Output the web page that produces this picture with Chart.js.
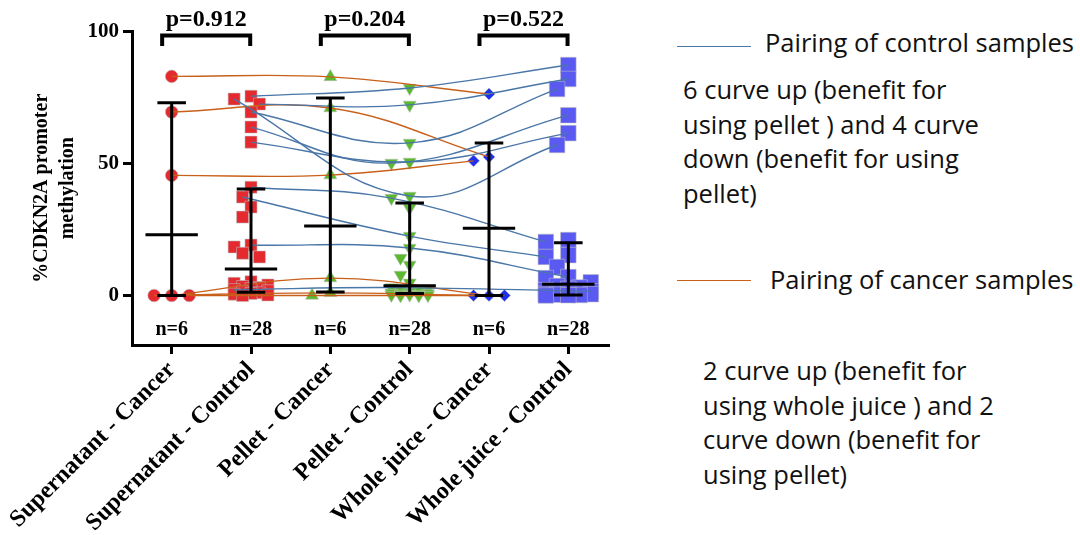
<!DOCTYPE html>
<html>
<head>
<meta charset="utf-8">
<script src="https://cdn.jsdelivr.net/npm/chart.js@4.4.1/dist/chart.umd.min.js"></script>
<style>
  html, body { margin: 0; padding: 0; background: #fff; }
  #wrap { position: relative; width: 1080px; height: 535px; overflow: hidden; }
  #chartBox { position: absolute; left: 0; top: 0; width: 640px; height: 535px; }
  .note { position: absolute; font-family: "Open Sans", sans-serif; font-size: 25.5px; color: #111; line-height: 34.5px; white-space: nowrap; }
  .key { position: absolute; width: 74px; height: 0; border-top: 1.6px solid; }
</style>
</head>
<body>
<div id="wrap">
  <div id="chartBox"><canvas id="plot"></canvas></div>
  <div class="key" style="left:677px; top:46px; border-color:#4a76a8"></div>
  <div class="note" style="left:765px; top:25px">Pairing of control samples</div>
  <div class="note" style="left:683px; top:72px">6 curve up (benefit for<br>using pellet ) and 4 curve<br>down (benefit for using<br>pellet)</div>
  <div class="key" style="left:677px; top:280px; border-color:#c8601a"></div>
  <div class="note" style="left:770px; top:262px">Pairing of cancer samples</div>
  <div class="note" style="left:703px; top:353px">2 curve up (benefit for<br>using whole juice ) and 2<br>curve down (benefit for<br>using pellet)</div>
</div>
<script>
// groups on the x axis
const groups = ['Supernatant - Cancer', 'Supernatant - Control', 'Pellet - Cancer', 'Pellet - Control', 'Whole juice - Cancer', 'Whole juice - Control'];

// % methylation per sample
const supCancer = [83, 69.5, 45.5, 0, 0, 0];
const supControl = [75.5, 74.4, 72.5, 69.5, 63.8, 58.1, 41, 37.3, 33.5, 29.7, 19.1, 18.4, 16, 14.6,
  5.2, 4.6, 4, 3.4, 3, 2.6, 2.2, 1.8, 1.4, 1, 0.8, 0.5, 0.2, 0];
const pelCancer = [82.8, 71, 45.6, 6.6, 1, 0];
const pelControl = [78.6, 72.2, 57.8, 50.6, 50.2, 37.7, 36.9, 33.1, 22.5, 18, 14.2, 11.6, 7.8,
  4.8, 3, 2.5, 2, 1.6, 1.3, 1, 0.8, 0.6, 0.4, 0.3, 0.2, 0.1, 0, 0];
const wjCancer = [76.3, 52.5, 51, 0, 0, 0];
const wjControl = [87.3, 82, 78.2, 68.3, 61.5, 57, 21, 20.3, 15.3, 14.6, 10.8, 7, 6.6, 5,
  3.6, 3, 2.5, 2, 1.6, 1.3, 1, 0.8, 0.6, 0.5, 0.3, 0.2, 0.1, 0];

// median and interquartile range per group
const medians = [23, 10, 26.3, 3.7, 25.5, 4.3];
const q1 = [0, 1.2, 1.3, 0.8, 0, 0.2];
const q3 = [73, 40.3, 74.8, 35, 57.8, 20];

const pValues = ['p=0.912', 'p=0.204', 'p=0.522'];
const yTicks = [0, 50, 100];

// paired samples: [supernatant, pellet, whole juice]
const controlPairs = [
  [75.5, 78.6, 87.3], [72.5, 72.2, 82], [74.4, 37.7, 57], [69.5, 57.8, 78.2], [63.8, 50.2, 68.3],
  [58.1, 50.6, 61.5], [41, 36.9, 20.3], [37.3, 22.5, 14.6], [19.1, 18, 7], [2.2, 3, 1.6]
];
const cancerPairs = [[83, 82.8, 76.3], [69.5, 71, 52.5], [45.5, 45.6, 51], [0, 6.6, 0], [0, 1, 0], [0, 0, 0]];

const groupValues = [supCancer, supControl, pelCancer, pelControl, wjCancer, wjControl];

const markers = [
  { style: 'circle', radius: 6.3, size: 12.5, spread: 20, color: '#e42a2f', rot: 0 },
  { style: 'rect', radius: 8.5, size: 12, spread: 20, color: '#e42a2f', rot: 0 },
  { style: 'triangle', radius: 7.5, size: 13, spread: 20, color: '#5bb92e', rot: 0 },
  { style: 'triangle', radius: 7.5, size: 13, spread: 20, color: '#5bb92e', rot: 180 },
  { style: 'rectRot', radius: 6, size: 11, spread: 20, color: '#1c30ee', rot: 0 },
  { style: 'rect', radius: 11, size: 16, spread: 23, color: '#5a5af2', rot: 0 }
];

// rough pixel scale, only used to spread overlapping points sideways
const PX_Y = 2.64, PX_X = 79;

function swarm(vals, size, spread) {
  const placed = [], offs = [];
  const order = vals.map((v, i) => i).sort((a, b) => vals[b] - vals[a]);
  const minD = size * 0.85, step = size * 0.7;
  const cands = [0];
  for (let k = 1; k * step <= spread; k++) cands.push(-k * step, k * step);
  for (const i of order) {
    const py = vals[i] * PX_Y;
    let pick = null, bestD = -1;
    for (const dx of cands) {
      const d = placed.reduce((m, p) => Math.min(m, Math.hypot(p.x - dx, p.y - py)), Infinity);
      if (d >= minD) { pick = dx; break; }
      if (d > bestD) { bestD = d; pick = dx; }
    }
    placed.push({ x: pick, y: py });
    offs[i] = pick;
  }
  return offs;
}

const pointsByGroup = groupValues.map((vals, g) => {
  const offs = swarm(vals, markers[g].size, markers[g].spread);
  return vals.map((v, i) => ({ x: g + offs[i] / PX_X, y: v, used: false }));
});

function findPoint(g, v) {
  let best = null;
  for (const p of pointsByGroup[g]) {
    if (p.used) continue;
    if (!best || Math.abs(p.y - v) < Math.abs(best.y - v)) best = p;
  }
  best.used = true;
  return { x: best.x, y: best.y };
}

const datasets = [];
controlPairs.forEach(tr => {
  datasets.push({
    data: tr.map((v, k) => findPoint(1 + 2 * k, v)),
    showLine: true, tension: 0.4, borderColor: '#4a76a8', borderWidth: 1.4,
    pointRadius: 0, order: 0
  });
});
cancerPairs.forEach(tr => {
  datasets.push({
    data: tr.map((v, k) => findPoint(2 * k, v)),
    showLine: true, tension: 0.4, borderColor: '#c8601a', borderWidth: 1.4,
    pointRadius: 0, order: 0
  });
});
pointsByGroup.forEach((pts, g) => {
  const m = markers[g];
  datasets.push({
    data: pts.map(p => ({ x: p.x, y: p.y })),
    pointStyle: m.style, pointRadius: m.radius, rotation: m.rot,
    backgroundColor: m.color, borderColor: 'rgba(190,190,190,0.7)', borderWidth: 0.8,
    order: 1
  });
});

const overlay = {
  id: 'overlay',
  afterDatasetsDraw(chart) {
    const { ctx, chartArea } = chart;
    const x = chart.scales.x, y = chart.scales.y;
    ctx.save();
    ctx.strokeStyle = '#000';
    ctx.fillStyle = '#000';
    ctx.lineWidth = 3;
    medians.forEach((m, i) => {
      const cx = x.getPixelForValue(i);
      const capW = x.getPixelForValue(i + 0.18) - cx;
      const medW = x.getPixelForValue(i + 0.33) - cx;
      const top = y.getPixelForValue(q3[i]);
      const bot = y.getPixelForValue(q1[i]);
      const mid = y.getPixelForValue(m);
      ctx.beginPath();
      ctx.moveTo(cx, top); ctx.lineTo(cx, bot);
      ctx.moveTo(cx - capW, top); ctx.lineTo(cx + capW, top);
      ctx.moveTo(cx - capW, bot); ctx.lineTo(cx + capW, bot);
      ctx.moveTo(cx - medW, mid); ctx.lineTo(cx + medW, mid);
      ctx.stroke();
    });

    ctx.font = 'bold 20px "Liberation Serif"';
    ctx.textAlign = 'center';
    ctx.textBaseline = 'middle';
    groupValues.forEach((vals, i) => {
      ctx.fillText('n=' + vals.length, x.getPixelForValue(i), y.getPixelForValue(-13));
    });

    ctx.lineWidth = 4;
    ctx.lineJoin = 'miter';
    ctx.font = 'bold 24px "Liberation Serif"';
    ctx.textBaseline = 'alphabetic';
    pValues.forEach((p, k) => {
      const l = x.getPixelForValue(2 * k - 0.12);
      const r = x.getPixelForValue(2 * k + 1 - 0.01);
      const by = chartArea.top + 4, legY = chartArea.top + 14.5;
      ctx.beginPath();
      ctx.moveTo(l, legY); ctx.lineTo(l, by); ctx.lineTo(r, by); ctx.lineTo(r, legY);
      ctx.stroke();
      ctx.fillText(p, (l + r) / 2, chartArea.top - 6);
    });
    ctx.restore();
  }
};

Chart.defaults.font.family = '"Liberation Serif", serif';
Chart.defaults.color = '#000';

new Chart(document.getElementById('plot'), {
  type: 'scatter',
  data: { datasets: datasets },
  options: {
    responsive: true,
    maintainAspectRatio: false,
    animation: false,
    layout: { padding: { top: 31.5, right: 32, left: 0, bottom: 0 } },
    plugins: { legend: { display: false }, tooltip: { enabled: false } },
    scales: {
      x: {
        type: 'linear', min: -0.5, max: 5.5,
        afterBuildTicks: s => { s.ticks = groups.map((g, i) => ({ value: i })); },
        afterFit: s => { s.height = 190; },
        ticks: {
          callback: v => groups[v], autoSkip: false, minRotation: 45, maxRotation: 45,
          padding: 2, color: '#000', font: { weight: 'bold', size: 24 }
        },
        grid: { drawOnChartArea: false, drawTicks: true, tickLength: 9, color: '#000', lineWidth: 3 },
        border: { display: true, color: '#000', width: 3 }
      },
      y: {
        min: -18.75, max: 100,
        afterBuildTicks: s => { s.ticks = yTicks.map(v => ({ value: v })); },
        afterFit: s => { s.width = 132; },
        ticks: { padding: 4, color: '#000', font: { weight: 'bold', size: 21 } },
        grid: { drawOnChartArea: false, drawTicks: true, tickLength: 9, color: '#000', lineWidth: 3 },
        border: { display: true, color: '#000', width: 3 },
        title: {
          display: true, text: ['%CDKN2A promoter', 'methylation'], color: '#000',
          font: { weight: 'bold', size: 20, lineHeight: 1.3 }, padding: { top: 29, bottom: 0 }
        }
      }
    }
  },
  plugins: [overlay]
});
</script>
</body>
</html>
